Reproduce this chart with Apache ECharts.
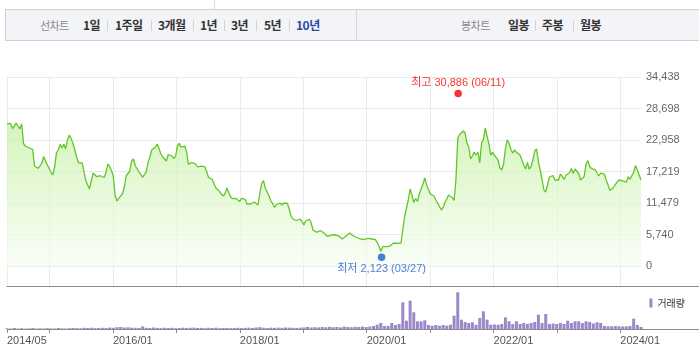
<!DOCTYPE html>
<html><head><meta charset="utf-8">
<script src="https://cdn.jsdelivr.net/npm/echarts@6/dist/echarts.min.js"></script>
<style>
html,body{margin:0;padding:0;background:#fff;}
#wrap{position:relative;width:699px;height:361px;overflow:hidden;font-family:"Noto Sans CJK KR",sans-serif;}
#chart{position:absolute;left:0;top:0;width:699px;height:361px;}
#bar{position:absolute;left:5px;top:9px;width:720px;height:30px;background:#f3f4f8;border:1px solid #cfd0d4;}
#divider{position:absolute;left:356px;top:10px;width:1px;height:30px;background:#d6d7db;}
.t{position:absolute;top:10px;line-height:30px;font-size:12px;white-space:nowrap;letter-spacing:-0.5px;}
.g{color:#8a8a8a;font-size:11px;}
.b{color:#333;font-weight:bold;}
.sel{color:#2b4aa0;font-weight:bold;}
.s{position:absolute;top:20px;width:1px;height:11px;background:#d3d3d3;}
#topline{position:absolute;left:214px;top:0;width:1px;height:9px;background:#dedede;}
</style></head>
<body>
<div id="wrap">
  <div id="chart"></div>
  <div id="topline"></div>
  <div id="bar"></div>
  <div id="divider"></div>
  <span class="t g" style="left:40px">선차트</span>
  <span class="t b" style="left:83px">1일</span><span class="s" style="left:107px"></span>
  <span class="t b" style="left:115px">1주일</span><span class="s" style="left:151px"></span>
  <span class="t b" style="left:158px">3개월</span><span class="s" style="left:193px"></span>
  <span class="t b" style="left:200px">1년</span><span class="s" style="left:224px"></span>
  <span class="t b" style="left:231px">3년</span><span class="s" style="left:256px"></span>
  <span class="t b" style="left:264px">5년</span><span class="s" style="left:289px"></span>
  <span class="t sel" style="left:296px">10년</span>
  <span class="t g" style="left:461px">봉차트</span>
  <span class="t b" style="left:508px">일봉</span><span class="s" style="left:535px"></span>
  <span class="t b" style="left:542px">주봉</span><span class="s" style="left:573px"></span>
  <span class="t b" style="left:580px">월봉</span>
</div>
<script>
// ---- data ----
const startDate = '2014-05-01';
const endDate = '2024-04-29';
const priceValues = [
25960,26240,25960,25050,24690,26050,26240,24960,25870,22320,21860,21860,21550,21320,21230,18220,17910,17800,17580,18680,
19950,19860,18400,18220,17130,16580,18040,20620,21140,22170,21500,22230,21320,22960,23870,23230,22320,21140,19860,18800,
18890,18770,17180,15580,15340,14030,13850,16940,16760,16270,16580,16450,16490,16120,17000,18580,18130,17400,16400,12940,
11840,12330,12570,13170,14300,16400,16220,17310,19130,19500,18260,18130,17160,16760,16140,16030,17130,18950,19860,21170,
21320,21680,22230,21950,20410,19860,19950,19130,20320,20370,20040,19590,19990,21860,22370,21640,21810,21860,20770,18580,
18860,18860,18580,18580,18040,17800,18220,17860,18040,17130,16120,15850,15800,14940,14210,13900,13570,13120,12750,13210,
14210,13390,12660,12280,12150,12300,12060,11750,12330,12570,12120,11300,11110,11300,11300,11660,11840,11110,13300,15030,
15540,14160,13990,12750,11840,11390,10660,11210,11570,11480,11110,11480,11480,11420,10390,9110,8560,8750,8290,8560,
8560,8110,7470,8200,8560,8510,7830,6560,6290,6140,6190,6470,6380,6010,5830,5380,5470,5650,5780,5650,
5470,5470,5280,4920,5100,5470,5650,6010,5830,5470,5650,5190,4990,4880,5010,4830,4830,5050,5190,4920,
4960,4830,4650,3640,2640,3520,3320,3520,3550,3640,3740,4190,4370,4140,4040,4190,6560,9020,9200,12030,
14030,12940,11570,12300,11750,13120,13210,14940,16030,14760,13940,13120,13190,12750,12060,11480,10840,10200,10660,11570,
12210,12940,13120,12480,11930,15670,23320,23960,24050,24600,24230,22410,21680,19500,20040,20770,20220,20770,18770,22410,
23050,25140,25330,22230,20220,20680,20220,20320,19310,17860,17490,18580,21320,22960,22320,21230,20590,21170,20720,20590,
20220,19860,18400,17670,18860,17670,18090,19310,20950,21320,19040,17490,15760,13850,13480,14760,16220,16160,16490,15670,
15580,15670,16760,16310,15760,16520,16450,17000,17760,16850,17670,17910,16850,15670,15850,16310,18580,19190,18130,17760,
17550,17580,16940,16400,16940,17130,16760,15670,14790,13760,13880,14300,14850,15300,15670,15670,15520,15250,15270,16270,
15760,16490,17130,18310,17490,17130,15670];
const volumeValues = [
14000,10000,20000,10000,16000,8000,12000,20000,10000,14000,
10000,18000,12000,10000,20000,14000,10000,16000,20000,16000,
14000,24000,20000,26000,18000,20000,24000,20000,28000,24000,
36000,40000,30000,34000,26000,24000,20000,50000,24000,20000,
30000,22000,18000,26000,20000,24000,16000,20000,26000,20000,
24000,28000,20000,22000,18000,24000,20000,26000,16000,20000,
22000,18000,20000,24000,18000,22000,26000,20000,30000,36000,
24000,20000,26000,22000,28000,24000,30000,26000,24000,20000,
28000,32000,40000,30000,36000,32000,40000,34000,44000,36000,
40000,32000,50000,40000,36000,44000,40000,48000,40000,50000,
60000,86000,120000,60000,60000,120000,80000,100000,534000,166000,
566000,334000,154000,154000,174000,80000,66000,80000,66000,80000,
66000,86000,266000,734000,186000,140000,120000,134000,86000,220000,
354000,186000,86000,90000,86000,100000,234000,154000,100000,154000,
100000,120000,100000,120000,140000,286000,120000,300000,100000,110000,
100000,120000,100000,166000,120000,154000,154000,120000,154000,140000,
110000,134000,120000,60000,54000,54000,60000,54000,50000,54000,
60000,206000,80000,40000];
const highPoint = { date: '2021-06-11', value: 30886, tag: '06/11' };
const lowPoint  = { date: '2020-03-27', value: 2123,  tag: '03/27' };
const yMax = 34438;
const yTickLabels = ['0','5,740','11,479','17,219','22,958','28,698','34,438'];
const xTickDates = ['2014-05-01','2015-01-01','2016-01-01','2017-01-01','2018-01-01','2019-01-01','2020-01-01','2021-01-01','2022-01-01','2023-01-01','2024-01-01'];
const xLabelDates = ['2014-05-01','2016-01-01','2018-01-01','2020-01-01','2022-01-01','2024-01-01'];
const xLabelTexts = ['2014/05','2016/01','2018/01','2020/01','2022/01','2024/01'];

// ---- build ----
const toTime = s => { const p = s.split('-').map(Number); return Date.UTC(p[0], p[1]-1, p[2]); };
const t0 = toTime(startDate), t1 = toTime(endDate);
const spread = arr => arr.map((_, k) => t0 + (t1 - t0) * k / (arr.length - 1));
const priceDates = spread(priceValues);
const volumeDates = spread(volumeValues);
const priceData = priceValues.map((v, k) => [priceDates[k], v]);
const volumeData = volumeValues.map((v, k) => [volumeDates[k], v]);
const tickTimes = xTickDates.map(toTime);
const labelTimes = xLabelDates.map(toTime);
const yTicks = yTickLabels.map((_, i) => yMax * i / (yTickLabels.length - 1));

const L = 7, priceW = 634, fullW = 692;
const tExt = t0 + (t1 - t0) * fullW / priceW;
const FONT = "'Liberation Sans', 'Noto Sans CJK KR', sans-serif";
const fmtNum = v => v.toLocaleString('en-US');
const labelFor = v => { for (let i = 0; i < labelTimes.length; i++) if (Math.abs(labelTimes[i] - v) < 864e5) return xLabelTexts[i]; return ''; };

const chart = echarts.init(document.getElementById('chart'), null, { renderer: 'canvas' });
chart.setOption({
  animation: false,
  backgroundColor: '#fff',
  legend: {
    data: [{ name: '거래량', icon: 'rect' }],
    right: 9, top: 293, itemWidth: 3, itemHeight: 9, itemGap: 2,
    textStyle: { fontSize: 10, color: '#333', fontFamily: "'Noto Sans CJK KR', sans-serif" }
  },
  grid: [
    { left: L, top: 77, width: priceW, height: 189 },
    { left: L, top: 266, width: fullW, height: 20 },
    { left: L, top: 286, width: fullW, height: 43 }
  ],
  xAxis: [
    { type: 'value', gridIndex: 0, min: t0, max: t1, scale: true,
      axisLine: { show: false }, axisTick: { show: false, customValues: tickTimes },
      axisLabel: { show: false, customValues: tickTimes }, splitLine: { show: true, lineStyle: { color: '#ebebeb' } } },
    { type: 'value', gridIndex: 1, min: t0, max: tExt, scale: true,
      axisLine: { show: true, onZero: false, lineStyle: { color: '#8c8c8c' } }, axisTick: { show: false, customValues: tickTimes },
      axisLabel: { show: false, customValues: tickTimes }, splitLine: { show: true, lineStyle: { color: '#ebebeb' } } },
    { type: 'value', gridIndex: 2, min: t0, max: tExt, scale: true,
      axisLine: { show: true, onZero: false, lineStyle: { color: '#8c8c8c' } },
      axisTick: { show: true, customValues: tickTimes, length: 4, lineStyle: { color: '#8c8c8c' } },
      axisLabel: { show: true, customValues: labelTimes, formatter: labelFor, align: 'left', margin: 6,
                   fontSize: 11, color: '#555', fontFamily: FONT },
      splitLine: { show: false } }
  ],
  yAxis: [
    { type: 'value', gridIndex: 0, position: 'right', min: 0, max: yMax,
      axisLine: { show: false }, axisTick: { show: false, customValues: yTicks },
      axisLabel: { customValues: yTicks, formatter: v => yTickLabels[Math.round(v / (yMax / 6))], margin: 5,
                   fontSize: 11, color: '#666', fontFamily: FONT },
      splitLine: { show: true, lineStyle: { color: '#ebebeb' } } },
    { type: 'value', gridIndex: 1, show: false, splitLine: { show: false } },
    { type: 'value', gridIndex: 2, show: false, min: 0, max: 860000, splitLine: { show: false } }
  ],
  series: [
    { name: '가격', type: 'line', xAxisIndex: 0, yAxisIndex: 0, data: priceData,
      showSymbol: false, symbol: 'none',
      lineStyle: { color: '#62c626', width: 1.3 },
      areaStyle: { color: new echarts.graphic.LinearGradient(0, 0, 0, 1, [
        { offset: 0, color: '#c4f0a2' }, { offset: 1, color: '#f6fdf2' } ]) } },
    { name: 'marks', type: 'scatter', xAxisIndex: 0, yAxisIndex: 0, symbolSize: 7.5, z: 5,
      data: [
        { value: [toTime(highPoint.date), highPoint.value], symbolOffset: [0, -3],
          itemStyle: { color: '#f20000' },
          label: { show: true, position: 'top', distance: 1, color: '#f20000',
                   formatter: '최고 ' + fmtNum(highPoint.value) + ' (' + highPoint.tag + ')' } },
        { value: [toTime(lowPoint.date), lowPoint.value], symbolOffset: [0, 3],
          itemStyle: { color: '#1a5fcc' },
          label: { show: true, position: 'bottom', distance: 2, color: '#1a5fcc',
                   formatter: '최저 ' + fmtNum(lowPoint.value) + ' (' + lowPoint.tag + ')' } }
      ],
      label: { fontSize: 11, fontFamily: FONT } },
    { name: '거래량', type: 'bar', xAxisIndex: 2, yAxisIndex: 2, data: volumeData,
      barWidth: 3, itemStyle: { color: '#9b88c9' } }
  ]
});
</script>
</body></html>
